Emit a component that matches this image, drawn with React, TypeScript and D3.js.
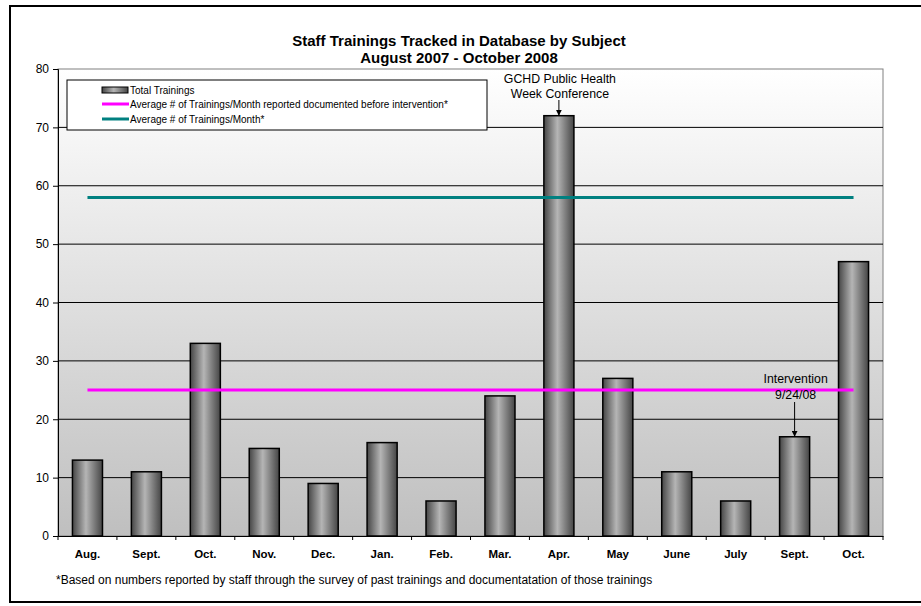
import React, { useEffect, useRef } from 'react';
import * as d3 from 'd3';

const months = ['Aug.', 'Sept.', 'Oct.', 'Nov.', 'Dec.', 'Jan.', 'Feb.', 'Mar.', 'Apr.', 'May', 'June', 'July', 'Sept.', 'Oct.'];
const totals = [13, 11, 33, 15, 9, 16, 6, 24, 72, 27, 11, 6, 17, 47];
const avgBefore = 25;
const avgAll = 58;
const yTicks = [0, 10, 20, 30, 40, 50, 60, 70, 80];
const legendLabels = [
  'Total Trainings',
  'Average # of Trainings/Month reported documented before intervention*',
  'Average # of Trainings/Month*',
];

export default () => {
  const svgRef = useRef<SVGSVGElement>(null);

  function loadGraph(elm: SVGSVGElement) {
    const width = 921, height = 606;
    const m = { left: 58, right: 38, top: 69, bottom: 70 };
    const svg = d3.select(elm)
      .attr('width', width)
      .attr('height', height)
      .style('position', 'absolute')
      .style('left', 0)
      .style('top', 0)
      .style('font-family', 'Arial, "Liberation Sans", sans-serif');
    svg.selectAll('*').remove();

    const defs = svg.append('defs');
    const bg = defs.append('linearGradient').attr('id', 'bg')
      .attr('x1', 0).attr('y1', 0).attr('x2', 0).attr('y2', 1);
    bg.append('stop').attr('offset', '0%').attr('stop-color', '#ffffff');
    bg.append('stop').attr('offset', '100%').attr('stop-color', '#bfbfbf');

    const bar = defs.append('linearGradient').attr('id', 'bar')
      .attr('x1', 0).attr('y1', 0).attr('x2', 1).attr('y2', 0);
    bar.append('stop').attr('offset', '0%').attr('stop-color', '#454545');
    bar.append('stop').attr('offset', '45%').attr('stop-color', '#b5b5b5');
    bar.append('stop').attr('offset', '100%').attr('stop-color', '#454545');

    const arrow = defs.append('marker').attr('id', 'arr')
      .attr('viewBox', '0 0 10 10').attr('refX', 10).attr('refY', 5)
      .attr('markerWidth', 6).attr('markerHeight', 6).attr('orient', 'auto');
    arrow.append('path').attr('d', 'M0,0L10,5L0,10Z').attr('fill', '#000');

    // outer frame
    svg.append('rect').attr('x', 10).attr('y', 6).attr('width', 920).attr('height', 596)
      .attr('fill', '#fff').attr('stroke', '#000').attr('stroke-width', 2);

    const x = d3.scaleBand<number>()
      .domain(months.map((_, i) => i))
      .range([m.left, width - m.right])
      .paddingInner(0.49)
      .paddingOuter(0.245);
    const xs = d3.scaleBand<number>()
      .domain(months.map((_, i) => i))
      .range([m.left, width - m.right]);
    const y = d3.scaleLinear().domain([0, 80]).range([height - m.bottom, m.top]);

    svg.append('rect')
      .attr('x', m.left).attr('y', m.top)
      .attr('width', width - m.left - m.right).attr('height', y(0) - m.top)
      .attr('fill', 'url(#bg)').attr('stroke', '#808080');

    svg.append('g').selectAll('line').data(yTicks.filter(t => t > 0 && t < 80)).enter()
      .append('line')
      .attr('x1', m.left).attr('x2', width - m.right)
      .attr('y1', d => y(d)).attr('y2', d => y(d))
      .attr('stroke', '#000').attr('stroke-width', 1);

    svg.append('g').selectAll('rect').data(totals).enter()
      .append('rect')
      .attr('x', (_, i) => x(i)!)
      .attr('width', x.bandwidth())
      .attr('y', d => y(d))
      .attr('height', d => y(0) - y(d))
      .attr('fill', 'url(#bar)')
      .attr('stroke', '#000').attr('stroke-width', 1.5);

    const lx1 = xs(0)! + xs.bandwidth() / 2;
    const lx2 = xs(months.length - 1)! + xs.bandwidth() / 2;
    svg.append('line').attr('x1', lx1).attr('x2', lx2)
      .attr('y1', y(avgBefore)).attr('y2', y(avgBefore))
      .attr('stroke', '#ff00ff').attr('stroke-width', 3);
    svg.append('line').attr('x1', lx1).attr('x2', lx2)
      .attr('y1', y(avgAll)).attr('y2', y(avgAll))
      .attr('stroke', '#008080').attr('stroke-width', 3);

    // axes
    const yAxis = svg.append('g').attr('transform', `translate(${m.left},0)`)
      .call(d3.axisLeft(y).tickValues(yTicks).tickSize(5).tickPadding(4));
    yAxis.select('.domain').attr('stroke', '#000');
    yAxis.selectAll('text').attr('font-size', 12).attr('fill', '#000')
      .style('font-family', 'Arial, "Liberation Sans", sans-serif');

    const xAxis = svg.append('g').attr('transform', `translate(0,${y(0)})`)
      .call(d3.axisBottom(xs).tickValues([]).tickSizeOuter(0));
    xAxis.select('.domain').attr('stroke', '#000');
    svg.append('g').selectAll('line').data(d3.range(months.length + 1)).enter()
      .append('line')
      .attr('x1', i => m.left + i * xs.step()).attr('x2', i => m.left + i * xs.step())
      .attr('y1', y(0)).attr('y2', y(0) + 4).attr('stroke', '#000');
    svg.append('g').selectAll('text').data(months).enter()
      .append('text')
      .attr('x', (_, i) => xs(i)! + xs.bandwidth() / 2)
      .attr('y', y(0) + 22)
      .attr('text-anchor', 'middle')
      .attr('font-size', 11.5).attr('font-weight', 'bold')
      .text(d => d);

    // title
    svg.append('text').attr('x', 459).attr('y', 46).attr('text-anchor', 'middle')
      .attr('font-size', 15).attr('font-weight', 'bold')
      .text('Staff Trainings Tracked in Database by Subject');
    svg.append('text').attr('x', 459).attr('y', 63).attr('text-anchor', 'middle')
      .attr('font-size', 15).attr('font-weight', 'bold')
      .text('August 2007 - October 2008');

    // legend
    const lg = svg.append('g');
    lg.append('rect').attr('x', 67).attr('y', 80).attr('width', 420).attr('height', 50)
      .attr('fill', '#fff').attr('stroke', '#000');
    const ly = [90, 104, 119];
    lg.append('rect').attr('x', 102).attr('y', ly[0] - 3).attr('width', 26).attr('height', 6)
      .attr('fill', 'url(#bar)').attr('stroke', '#000');
    lg.append('line').attr('x1', 102).attr('x2', 129).attr('y1', ly[1]).attr('y2', ly[1])
      .attr('stroke', '#ff00ff').attr('stroke-width', 3);
    lg.append('line').attr('x1', 102).attr('x2', 129).attr('y1', ly[2]).attr('y2', ly[2])
      .attr('stroke', '#008080').attr('stroke-width', 3);
    lg.selectAll('text.l').data(legendLabels).enter()
      .append('text')
      .attr('x', 130).attr('y', (_, i) => ly[i] + 3.5)
      .attr('font-size', 10)
      .text(d => d);

    // annotations
    const ax = xs(8)! + xs.bandwidth() / 2;
    svg.append('text').attr('x', ax + 1).attr('y', 83).attr('text-anchor', 'middle')
      .attr('font-size', 12.3).text('GCHD Public Health');
    svg.append('text').attr('x', ax + 1).attr('y', 98).attr('text-anchor', 'middle')
      .attr('font-size', 12.3).text('Week Conference');
    svg.append('line').attr('x1', ax).attr('x2', ax).attr('y1', 100).attr('y2', y(totals[8]))
      .attr('stroke', '#000').attr('marker-end', 'url(#arr)');

    const bx = xs(12)! + xs.bandwidth() / 2;
    svg.append('text').attr('x', bx + 1).attr('y', 383).attr('text-anchor', 'middle')
      .attr('font-size', 12.3).text('Intervention');
    svg.append('text').attr('x', bx + 1).attr('y', 399).attr('text-anchor', 'middle')
      .attr('font-size', 12.3).text('9/24/08');
    svg.append('line').attr('x1', bx).attr('x2', bx).attr('y1', 402).attr('y2', y(totals[12]))
      .attr('stroke', '#000').attr('marker-end', 'url(#arr)');

    // footnote
    svg.append('text').attr('x', 56).attr('y', 584).attr('font-size', 12)
      .text('*Based on numbers reported by staff through the survey of past trainings and documentatation of those trainings');
  }

  useEffect(() => {
    if (svgRef.current) {
      loadGraph(svgRef.current);
    }
  }, [svgRef.current]);

  return <svg ref={svgRef}></svg>;
}
